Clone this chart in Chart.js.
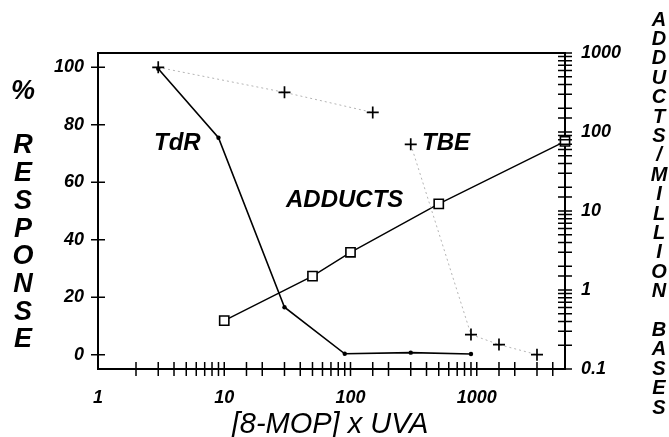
<!DOCTYPE html>
<html>
<head>
<meta charset="utf-8">
<script src="https://cdn.jsdelivr.net/npm/chart.js@4/dist/chart.umd.min.js"></script>
<style>
  body { margin: 0; background: #fff; }
  canvas { display: block; }
</style>
</head>
<body>
<canvas id="chart" width="669" height="437"></canvas>
<script>
// dose axis: [8-MOP] x UVA
const tdrDose = [3, 9, 30, 90, 300, 900];
const tdrResp = [99.5, 75.5, 16.5, 0.3, 0.7, 0.2];

// TBE is drawn in two pieces (no line between 150 and 300)
const tbeDoseA = [3, 30, 150];
const tbeRespA = [100, 91.3, 84.3];
const tbeDoseB = [300, 900, 1500, 3000];
const tbeRespB = [73.2, 7, 3.5, 0];

// adducts / million bases (right axis)
const adductDose = [10, 50, 100, 500, 5000];
const adductVals = [0.41, 1.5, 3.0, 12.3, 76];

const respTicks = [0, 20, 40, 60, 80, 100];
const doseLabels = [1, 10, 100, 1000];
const adductLabels = [0.1, 1, 10, 100, 1000];

const FONT = "'Liberation Sans', Arial, Helvetica, sans-serif";

const pts = (xs, ys) => xs.map((x, i) => ({ x: x, y: ys[i] }));
const isLabel = (list, v) => list.some(l => Math.abs(l - v) < l * 1e-6);

const tbeStyle = {
  borderColor: '#b4b4b4',
  borderWidth: 1,
  borderDash: [2, 3],
  pointStyle: 'cross',
  pointRadius: 6,
  pointBorderColor: '#000',
  pointBorderWidth: 1.7,
  clip: false
};

// tick marks that cross the axis lines + frame + stacked titles
const axisDecor = {
  id: 'axisDecor',
  afterDraw(chart) {
    const ctx = chart.ctx;
    const a = chart.chartArea;
    const xs = chart.scales.x, ys = chart.scales.y, y2 = chart.scales.y2;
    const L = 7;
    ctx.save();
    ctx.strokeStyle = '#000';
    ctx.lineWidth = 1.5;
    ctx.beginPath();
    xs.ticks.forEach(t => {
      const px = xs.getPixelForValue(t.value);
      if (px <= a.left + 1 || px >= a.right - 1) return;
      ctx.moveTo(px, a.bottom - L);
      ctx.lineTo(px, a.bottom + L);
    });
    ys.ticks.forEach(t => {
      const py = ys.getPixelForValue(t.value);
      ctx.moveTo(a.left - L, py);
      ctx.lineTo(a.left + L, py);
    });
    y2.ticks.forEach(t => {
      const py = y2.getPixelForValue(t.value);
      ctx.moveTo(a.right - L, py);
      ctx.lineTo(a.right + L, py);
    });
    ctx.stroke();

    // top of the frame
    ctx.lineWidth = 2;
    ctx.beginPath();
    ctx.moveTo(a.left, a.top);
    ctx.lineTo(a.right, a.top);
    ctx.stroke();

    ctx.fillStyle = '#000';
    ctx.textAlign = 'center';
    ctx.textBaseline = 'middle';

    // left title, letters stacked
    ctx.font = 'italic bold 27px ' + FONT;
    ctx.fillText('%', 23, 92);
    'RESPONSE'.split('').forEach((c, i) => ctx.fillText(c, 23, 146 + i * 27.7));

    // right title
    ctx.font = 'italic bold 20px ' + FONT;
    'ADDUCTS/MILLION BASES'.split('').forEach((c, i) => {
      if (c !== ' ') ctx.fillText(c, 659, 20 + i * 19.4);
    });

    // x title
    ctx.font = 'italic 29px ' + FONT;
    ctx.textBaseline = 'alphabetic';
    ctx.fillText('[8-MOP] x UVA', 330, 433);

    // curve labels
    ctx.font = 'italic bold 24px ' + FONT;
    ctx.textAlign = 'left';
    ctx.fillText('TdR', 154, 150);
    ctx.fillText('TBE', 422, 150);
    ctx.fillText('ADDUCTS', 286, 207);
    ctx.restore();
  }
};

const tickFont = { family: FONT, size: 18, style: 'italic', weight: 'bold' };

new Chart(document.getElementById('chart'), {
  type: 'line',
  data: {
    datasets: [
      {
        label: 'TdR',
        data: pts(tdrDose, tdrResp),
        yAxisID: 'y',
        borderColor: '#000',
        borderWidth: 1.6,
        pointStyle: 'circle',
        pointRadius: 2.2,
        pointBackgroundColor: '#000',
        pointBorderWidth: 0,
        clip: false
      },
      Object.assign({ label: 'TBE', data: pts(tbeDoseA, tbeRespA), yAxisID: 'y' }, tbeStyle),
      Object.assign({ label: 'TBE 2', data: pts(tbeDoseB, tbeRespB), yAxisID: 'y' }, tbeStyle),
      {
        label: 'ADDUCTS',
        data: pts(adductDose, adductVals),
        yAxisID: 'y2',
        borderColor: '#000',
        borderWidth: 1.4,
        pointStyle: 'rect',
        pointRadius: 6.5,
        pointBackgroundColor: '#fff',
        pointBorderColor: '#000',
        pointBorderWidth: 1.6,
        clip: false
      }
    ]
  },
  options: {
    responsive: false,
    animation: false,
    devicePixelRatio: 1,
    layout: { padding: { top: 53, left: 0, right: 0, bottom: 0 } },
    plugins: { legend: { display: false }, tooltip: { enabled: false } },
    scales: {
      x: {
        type: 'logarithmic',
        min: 1,
        max: 5000,
        grid: { display: false, drawTicks: false },
        border: { display: true, color: '#000', width: 2 },
        ticks: {
          autoSkip: false,
          maxRotation: 0,
          padding: 18,
          color: '#000',
          font: tickFont,
          callback: v => isLabel(doseLabels, v) ? String(v) : ''
        },
        afterFit: s => { s.height = 68; }
      },
      y: {
        type: 'linear',
        position: 'left',
        min: -5,
        max: 105,
        grid: { display: false, drawTicks: false },
        border: { display: true, color: '#000', width: 2 },
        afterBuildTicks: s => { s.ticks = respTicks.map(v => ({ value: v })); },
        ticks: { padding: 14, color: '#000', font: tickFont },
        afterFit: s => { s.width = 98; }
      },
      y2: {
        type: 'logarithmic',
        position: 'right',
        min: 0.1,
        max: 1000,
        grid: { display: false, drawTicks: false },
        border: { display: true, color: '#000', width: 2 },
        ticks: {
          autoSkip: false,
          padding: 16,
          color: '#000',
          font: tickFont,
          callback: v => isLabel(adductLabels, v) ? String(v) : ''
        },
        afterFit: s => { s.width = 104; }
      }
    }
  },
  plugins: [axisDecor]
});
</script>
</body>
</html>
